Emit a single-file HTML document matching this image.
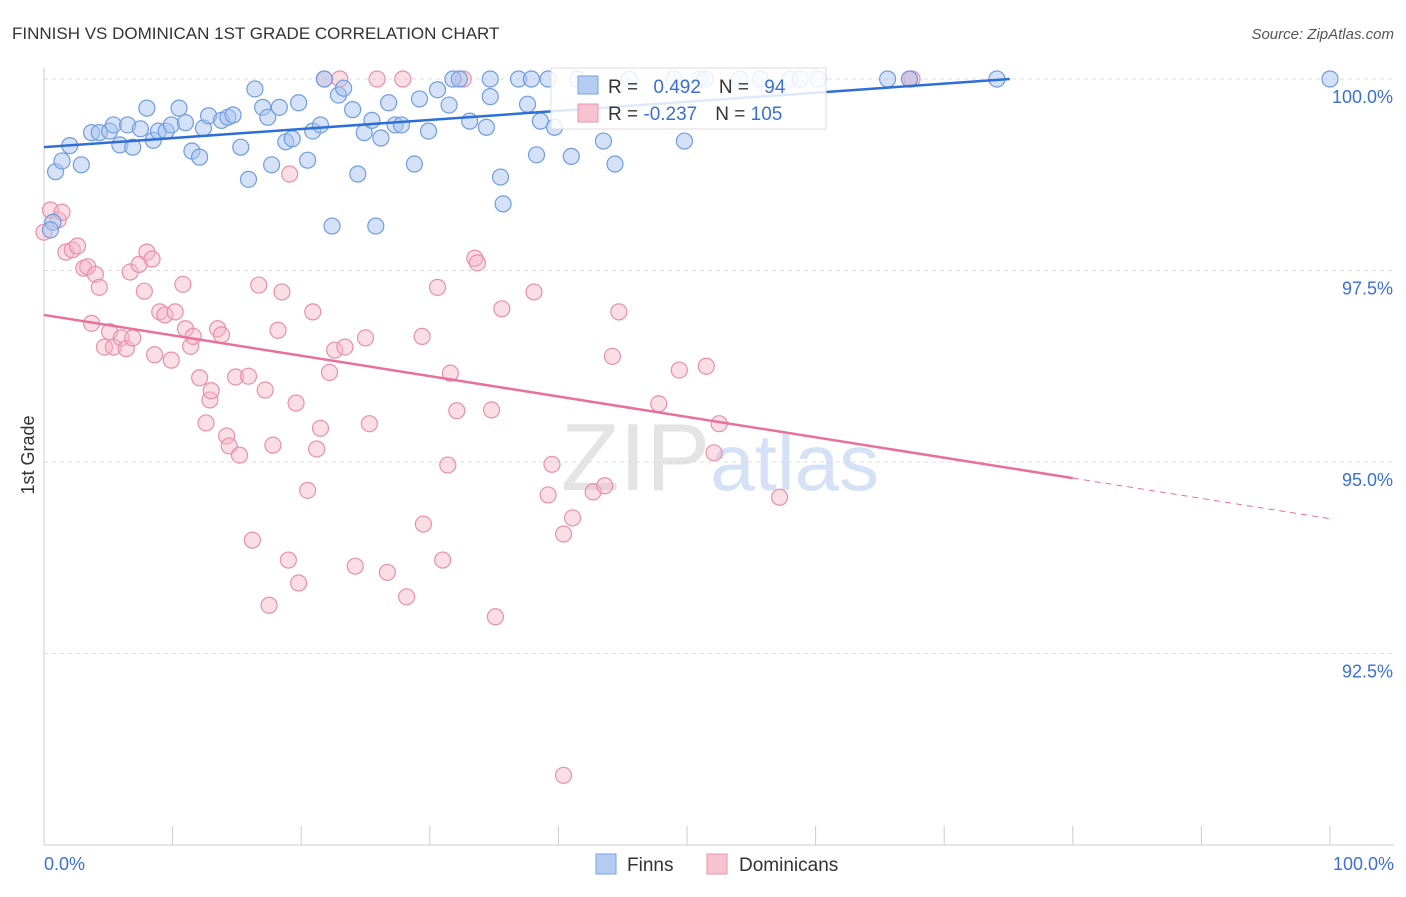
<!DOCTYPE html>
<html><head><meta charset="utf-8"><style>
body{margin:0;background:#fff;font-family:"Liberation Sans",sans-serif}
svg text{font-family:"Liberation Sans",sans-serif}
</style></head><body>
<svg id="chart" width="1406" height="892" xmlns="http://www.w3.org/2000/svg">
<text x="12" y="39" font-size="17" fill="#333">FINNISH VS DOMINICAN 1ST GRADE CORRELATION CHART</text>
<text x="1394" y="39" font-size="15" fill="#555" text-anchor="end" font-style="italic">Source: ZipAtlas.com</text>
<text x="34" y="455" font-size="18" fill="#333" text-anchor="middle" transform="rotate(-90 34 455)">1st Grade</text>
<text x="720" y="490" font-size="96" fill="#e4e4e4" text-anchor="middle" font-family="Liberation Serif">ZIP<tspan fill="#d5e2f5" font-family="Liberation Sans" font-size="80">atlas</tspan></text>
<g id="grid"></g><g id="axes"></g><g id="pts"></g><g id="lines"></g>
<g>
<rect x="551" y="68" width="275" height="61" fill="#fff" fill-opacity="0.85" stroke="#ddd"/>
<rect x="578" y="76" width="20" height="18" fill="#b5cdf2" stroke="#7aa3e0"/>
<text x="608" y="93" font-size="19" fill="#333">R = <tspan fill="#3b6fd4" dx="10">0.492</tspan><tspan dx="18" fill="#333">N = </tspan><tspan fill="#3b6fd4" dx="10">94</tspan></text>
<rect x="578" y="104" width="20" height="18" fill="#f7c3d3" stroke="#e894ae"/>
<text x="608" y="120" font-size="19" fill="#333">R = <tspan fill="#3b6fd4">-0.237</tspan><tspan dx="18" fill="#333">N = </tspan><tspan fill="#3b6fd4">105</tspan></text>
</g>
<g>
<rect x="596" y="854" width="20" height="20" fill="#b5cdf2" stroke="#7aa3e0"/>
<text x="627" y="871" font-size="19" fill="#333">Finns</text>
<rect x="707" y="854" width="20" height="20" fill="#f7c3d3" stroke="#e894ae"/>
<text x="739" y="871" font-size="19" fill="#333">Dominicans</text>
</g>
</svg>
<script>
const yTicks=[100,97.5,95,92.5];
const yTickLabels=["100.0%","97.5%","95.0%","92.5%"];
const xTicks=[0,10,20,30,40,50,60,70,80,90,100];
const finnsX=[0.9,1.4,2.0,2.9,3.7,4.3,5.1,5.4,6.5,5.9,6.9,7.5,8.0,8.5,8.9,9.5,9.9,10.5,11.0,11.5,12.1,12.4,12.8,13.8,14.3,14.7,15.3,15.9,16.4,17.0,17.4,17.7,18.3,18.8,19.3,19.8,20.5,20.9,21.5,21.8,22.9,23.3,22.4,24.0,24.4,24.9,25.5,25.8,26.2,26.8,27.3,27.8,28.8,29.2,29.9,30.6,31.5,31.8,33.1,34.4,34.7,35.5,35.7,36.9,37.6,37.9,38.3,38.6,39.2,39.7,41.0,41.5,43.5,44.4,49.8,51.0,54.1,58.0,60.2,65.6,67.3,74.1,100,34.7,32.3,45.5,49.0,51.4,55.7,58.8,0.7,0.5];
const finnsY=[98.79,98.93,99.13,98.88,99.30,99.30,99.32,99.40,99.40,99.14,99.11,99.35,99.62,99.20,99.32,99.32,99.40,99.62,99.43,99.06,98.98,99.36,99.52,99.46,99.50,99.53,99.11,98.69,99.87,99.63,99.50,98.88,99.63,99.18,99.22,99.69,98.94,99.32,99.40,100,99.79,99.88,98.08,99.60,98.76,99.30,99.46,98.08,99.23,99.69,99.40,99.40,98.89,99.74,99.32,99.86,99.66,100,99.45,99.37,100,98.72,98.37,100,99.67,100,99.01,99.45,100,99.37,98.99,100,99.19,98.89,99.19,100,100,100,100,100,100,100,100,99.77,100,100,100,100,100,100,98.13,98.03];
const domX=[0.5,1.1,1.4,1.7,2.2,2.6,3.1,3.4,4.0,4.3,3.7,4.7,5.1,5.4,6.0,6.4,6.7,6.9,7.4,7.8,8.0,8.4,8.6,9.0,9.4,9.9,10.2,10.8,11.0,11.4,11.6,12.1,12.6,12.9,13.0,13.5,13.8,14.2,14.4,14.9,15.2,15.9,16.2,16.7,17.2,17.5,17.8,18.2,18.5,19.1,19.0,19.6,19.8,20.5,20.9,21.2,21.5,21.8,22.2,22.6,23.0,23.4,24.2,25.0,25.3,25.9,26.7,27.9,28.2,29.4,29.5,30.6,31.0,31.4,31.6,32.1,32.6,33.5,33.7,34.8,35.1,35.6,38.1,39.2,39.5,40.4,40.4,41.1,42.7,43.6,44.2,44.7,47.8,49.4,51.5,52.1,52.5,57.2,67.5,67.3,0.0];
const domY=[98.29,98.16,98.26,97.74,97.77,97.82,97.53,97.55,97.45,97.28,96.81,96.50,96.70,96.50,96.62,96.48,97.48,96.62,97.58,97.23,97.74,97.65,96.40,96.96,96.92,96.33,96.96,97.32,96.74,96.51,96.64,96.10,95.51,95.81,95.93,96.74,96.66,95.34,95.21,96.11,95.09,96.12,93.98,97.31,95.94,93.13,95.22,96.72,97.22,98.76,93.72,95.77,93.42,94.63,96.96,95.17,95.44,100,96.17,96.46,100,96.50,93.64,96.62,95.50,100,93.56,100,93.24,96.64,94.19,97.28,93.72,94.96,96.16,95.67,100,97.66,97.60,95.68,92.98,97.00,97.22,94.57,94.97,94.06,90.91,94.27,94.61,94.69,96.38,96.96,95.76,96.20,96.25,95.12,95.50,94.54,100,100,98.0];
const finnsTrendX=[0,75.1];
const finnsTrendY=[99.11,100];
const domTrendX=[0,80,100];
const domTrendY=[96.92,94.79,94.26];

const X=v=>44+v*12.86;
const Y=v=>79+(100-v)*76.6;
const NS="http://www.w3.org/2000/svg";
function mk(tag,attrs,parent){const e=document.createElementNS(NS,tag);for(const k in attrs)e.setAttribute(k,attrs[k]);document.getElementById(parent).appendChild(e);return e;}
yTicks.forEach((t,i)=>{
 const l=mk('line',{x1:44,x2:1394,y1:Y(t),y2:Y(t),stroke:'#ddd','stroke-dasharray':'4,4'},'grid');
 
 
 const tx=mk('text',{x:1393,y:Y(t)+24,'font-size':18,fill:'#3b6fd4','text-anchor':'end'},'grid');
 tx.textContent=yTickLabels[i];
 
 
});
const ya=mk('line',{x1:44,x2:44,y1:68,y2:845,stroke:'#ccc'},'axes');


const xa=mk('line',{x1:44,x2:1394,y1:845,y2:845,stroke:'#ccc'},'axes');


xTicks.forEach(t=>{
 const l=mk('line',{x1:X(t),x2:X(t),y1:826,y2:845,stroke:'#ccc'},'axes');
 
 
});
[[0,'0.0%','start',44],[100,'100.0%','end',1394]].forEach(a=>{
 const tx=mk('text',{x:a[3],y:870,'font-size':18,fill:'#3b6fd4','text-anchor':a[2]},'axes');
 tx.textContent=a[1];
 
 
});
domX.forEach((x,i)=>{
 const c=mk('circle',{cx:X(x),cy:Y(domY[i]),r:8,fill:'#f4b6c8','fill-opacity':0.45,stroke:'#e890ab','stroke-width':1.2},'pts');
 
 
});
finnsX.forEach((x,i)=>{
 const c=mk('circle',{cx:X(x),cy:Y(finnsY[i]),r:8,fill:'#a9c4ee','fill-opacity':0.5,stroke:'#6f9de0','stroke-width':1.2},'pts');
 
 
});
const bl=mk('line',{x1:X(finnsTrendX[0]),y1:Y(finnsTrendY[0]),x2:X(finnsTrendX[1]),y2:Y(finnsTrendY[1]),stroke:'#2d6fd6','stroke-width':2.5},'lines');


const pl=mk('line',{x1:X(domTrendX[0]),y1:Y(domTrendY[0]),x2:X(domTrendX[1]),y2:Y(domTrendY[1]),stroke:'#e8709a','stroke-width':2.5},'lines');


const pd=mk('line',{x1:X(domTrendX[1]),y1:Y(domTrendY[1]),x2:X(domTrendX[2]),y2:Y(domTrendY[2]),stroke:'#e8709a','stroke-width':1,'stroke-dasharray':'6,5'},'lines');


</script>
</body></html>
